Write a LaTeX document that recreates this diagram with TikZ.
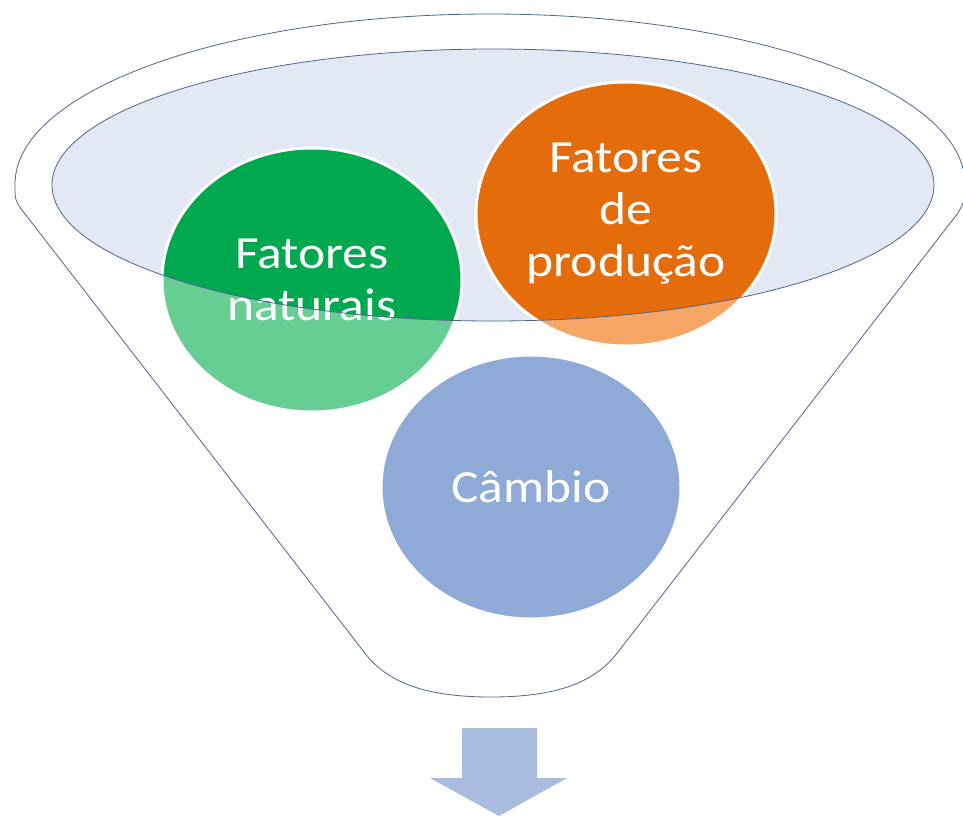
\documentclass[tikz,border=0pt]{standalone}
\usepackage{fontspec}
\setmainfont{Carlito}[FakeStretch=1.12]
\usetikzlibrary{shapes.geometric,positioning}
\definecolor{fnlline}{RGB}{80,100,140}
\definecolor{fnlglass}{RGB}{226,232,244}
\definecolor{natdark}{RGB}{0,168,80}
\definecolor{natlight}{RGB}{102,206,146}
\definecolor{proddark}{RGB}{228,108,10}
\definecolor{prodlight}{RGB}{245,166,100}
\definecolor{cambblue}{RGB}{143,170,214}
\definecolor{arrowblue}{RGB}{170,187,224}

\begin{document}
\begin{tikzpicture}[x=1pt, y=-1pt,
    ball/.style={ellipse, draw=white, line width=3pt, minimum width=300pt, minimum height=264pt,
        inner sep=0pt, text=white, align=center, font=\fontsize{46}{52}\selectfont},
    rimfill/.style={path picture={\fill[#1] (rim) ellipse [x radius=441pt, y radius=136pt];}}]
    \useasboundingbox (0,0) rectangle (963,815);

    % Funnel
    \draw[fnlline, fill=white, line width=0.8pt] (22,210) .. controls (15,200) .. (15,184)
        arc[start angle=180, end angle=360, x radius=475, y radius=170]
        .. controls (965,200) .. (958,213) -- (618,652)
        .. controls (596,681) and (560,697) .. (491,697)
        .. controls (422,697) and (386,681) .. (364,652) -- cycle;
    \coordinate (rim) at (493,185);
    \fill[fnlglass] (rim) ellipse [x radius=441, y radius=136];

    % Balls
    \node[ball, fill=natlight, rimfill=natdark] (nat) at (312,280) {Fatores\\naturais};
    \node[ball, fill=prodlight, rimfill=proddark] (prod) at (626,214) {Fatores\\de\\produção};
    \node[ball, fill=cambblue] (camb) at (531,487) {Câmbio};

    % Rim line over the balls
    \draw[fnlline, line width=0.8pt] (rim) ellipse [x radius=441, y radius=136];

    % Output arrow
    \fill[arrowblue] (462,728) -- (537,728) -- (537,778) -- (567,778) -- (499,816)
        -- (430,778) -- (462,778) -- cycle;
\end{tikzpicture}
\end{document}
